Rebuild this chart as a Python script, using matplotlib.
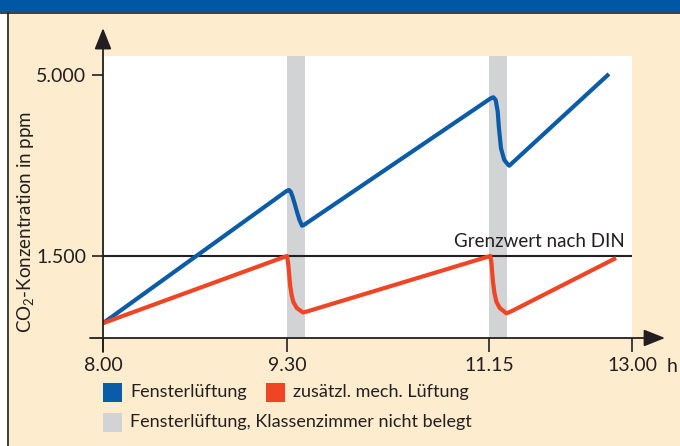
import numpy as np
import matplotlib
matplotlib.use("Agg")
import matplotlib.pyplot as plt
from matplotlib.patches import Rectangle
from matplotlib.lines import Line2D

plt.rcParams['font.family'] = ['Lato', 'DejaVu Sans']
plt.rcParams['mathtext.fontset'] = 'custom'
plt.rcParams['mathtext.rm'] = 'Lato'

# ---------------- data ----------------
# time in minutes after 8.00
tick_minutes = [0, 90, 195, 300]
tick_labels = ["8.00", "9.30", "11.15", "13.00"]
y_ticks = [1500, 5000]
y_tick_labels = ["1.500", "5.000"]
limit_ppm = 1500

# breaks (window ventilation, classroom empty)
break_start = [90, 195]
break_end = [99.4, 208.2]

# window ventilation only (blue)
blue_t = [0, 89.8, 91.0, 91.9, 92.9, 94.2, 95.4, 96.5, 97.8, 98.8,
          196.1, 198.2, 199.9, 201.4, 202.3, 203.8, 206.2, 209.2, 209.9, 283.1]
blue_ppm = [200, 2757, 2776, 2744, 2647, 2486, 2326, 2196, 2086, 2100,
            4546, 4569, 4517, 4291, 3970, 3583, 3357, 3260, 3246, 5020]

# additional mechanical ventilation (red)
red_t = [0, 90, 90.7, 91.6, 92.4, 93.3, 95.1, 98.3, 100.4,
         196.0, 196.8, 197.9, 199.0, 200.4, 202.9, 207.7, 210.4, 288.3]
red_ppm = [200, 1500, 1326, 939, 745, 610, 494, 408, 427,
           1500, 1365, 1003, 784, 616, 494, 392, 417, 1461]

# piecewise time axis (schematic spacing of the original)
T_KNOTS = [-1000, 0, 90, 195, 300, 1300]
P_KNOTS = [-2044, 0, 184, 386, 529, 529 + 1000 * 1.362]

BG = "#FEECCE"
BLUE = "#0B5CA8"
RED = "#EF4524"
GRAY = "#D1D3D4"
DARK = "#231F20"

W, H = 680, 446
fig = plt.figure(figsize=(W / 100, H / 100), dpi=100)
fig.patch.set_facecolor(BG)


def fx(px):
    return px / W


def fy(py):
    return 1 - py / H


# frame decorations
fig.add_artist(Rectangle((0, fy(12)), 1, 12 / H, transform=fig.transFigure,
                         facecolor="#0057A6", edgecolor="none", zorder=0))
fig.add_artist(Line2D([0, 1], [fy(12.5), fy(12.5)], transform=fig.transFigure,
                      color=DARK, lw=1.2))
fig.add_artist(Rectangle((0, 0), fx(7), fy(12), transform=fig.transFigure,
                         facecolor="white", edgecolor="none", zorder=0))
fig.add_artist(Line2D([fx(7.5), fx(7.5)], [0, fy(12.5)], transform=fig.transFigure,
                      color=DARK, lw=1.2))

ax = fig.add_axes([fx(103), fy(338), 529 / W, 282 / H])
ax.set_facecolor("white")


def fwd(t):
    return np.interp(t, T_KNOTS, P_KNOTS)


def inv(p):
    return np.interp(p, P_KNOTS, T_KNOTS)


ax.set_xscale("function", functions=(fwd, inv))
ax.set_xlim(0, 300)
ax.set_ylim(-86, 5367)

for s, e in zip(break_start, break_end):
    ax.axvspan(s, e, color=GRAY, lw=0, zorder=1)

ax.axhline(limit_ppm, color=DARK, lw=1.5, zorder=2)
ax.text(0.987, limit_ppm + 120, "Grenzwert nach DIN", transform=ax.get_yaxis_transform(),
        ha="right", va="bottom", fontsize=13.5, color=DARK)

ax.plot(blue_t, blue_ppm, color=BLUE, lw=3, solid_joinstyle="round",
        solid_capstyle="butt", zorder=3)
ax.plot(red_t, red_ppm, color=RED, lw=3, solid_joinstyle="round",
        solid_capstyle="butt", zorder=3)

for sp in ax.spines.values():
    sp.set_visible(False)

ax.set_xticks(tick_minutes, tick_labels)
ax.set_yticks(y_ticks, y_tick_labels)
ax.tick_params(axis="y", length=8, width=1.2, color=DARK, pad=4,
               labelsize=14, labelcolor=DARK)
ax.tick_params(axis="x", length=10, width=1.2, color=DARK, pad=4,
               labelsize=14, labelcolor=DARK)
for t in ax.xaxis.get_major_ticks():
    t.tick1line.set_clip_on(False)

# axis arrows
arrow = dict(arrowstyle="-|>,head_length=0.65,head_width=0.26", mutation_scale=20,
             lw=1.3, color=DARK, shrinkA=0, shrinkB=0)
ax.annotate("", xy=(1.0624, 0), xytext=(-0.0246, 0), xycoords="axes fraction",
            textcoords="axes fraction", arrowprops=arrow, annotation_clip=False)
ax.annotate("", xy=(0, 1.099), xytext=(0, -0.0496), xycoords="axes fraction",
            textcoords="axes fraction", arrowprops=arrow, annotation_clip=False)

fig.text(fx(667), fy(367), "h", ha="left", va="center", fontsize=14, color=DARK)

fig.text(fx(26), fy(222), r"CO$_\mathregular{2}$-Konzentration in ppm", rotation=90,
         ha="center", va="center", fontsize=13.5, color=DARK)

# legend
legend_items = [
    (103, 383, BLUE, "Fensterlüftung"),
    (266, 383, RED, "zusätzl. mech. Lüftung"),
    (103, 413, GRAY, "Fensterlüftung, Klassenzimmer nicht belegt"),
]
for x0, y0, c, lab in legend_items:
    fig.add_artist(Rectangle((fx(x0), fy(y0 + 19)), 19 / W, 19 / H,
                             transform=fig.transFigure, facecolor=c, edgecolor="none"))
    fig.text(fx(x0 + 27), fy(y0 + 9.5), lab, ha="left", va="center",
             fontsize=13, color=DARK)

fig.savefig("out.png", dpi=100, facecolor=BG)
